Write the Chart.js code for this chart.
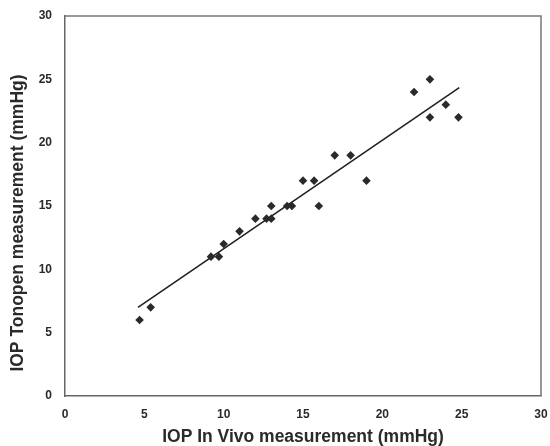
<!DOCTYPE html>
<html>
<head>
<meta charset="utf-8">
<script src="https://cdn.jsdelivr.net/npm/chart.js@4"></script>
<style>
  html, body { margin: 0; padding: 0; background: #fff; }
  #wrap { width: 550px; height: 446px; }
</style>
</head>
<body>
<div id="wrap"><canvas id="iopChart" width="550" height="446"></canvas></div>
<script>
// IOP in vivo (x) vs Tonopen (y), mmHg
const inVivo  = [4.7, 5.4, 9.2, 9.7, 10, 11, 12, 12.7, 13, 13, 14, 14.3, 15, 15.7, 16, 17, 18, 19, 22, 23, 23, 24, 24.8];
const tonopen = [6,   7,   11,  11,  12, 13, 14, 14,   14, 15, 15, 15,   17, 17,   15, 19, 19, 17, 24, 25, 22, 23, 22];

// trend line end points
const trendX = [4.6, 24.85];
const trendY = [7.0, 24.35];

const axisTicks = [0, 5, 10, 15, 20, 25, 30];

const points = inVivo.map((x, i) => ({ x, y: tonopen[i] }));
const trend = trendX.map((x, i) => ({ x, y: trendY[i] }));

// box round the plot area (top + right sides)
const frame = {
    id: 'frame',
    afterDraw(chart) {
        const { ctx, chartArea: a } = chart;
        ctx.save();
        ctx.strokeStyle = '#777';
        ctx.lineWidth = 1.5;
        ctx.beginPath();
        ctx.moveTo(a.left, a.top);
        ctx.lineTo(a.right, a.top);
        ctx.lineTo(a.right, a.bottom);
        ctx.stroke();
        ctx.restore();
    }
};

const tickFont = { family: 'Liberation Sans', size: 12, weight: 'bold' };
const titleFont = { family: 'Liberation Sans', size: 17.5, weight: 'bold', lineHeight: 1 };

new Chart(document.getElementById('iopChart'), {
    type: 'scatter',
    data: {
        datasets: [
            {
                label: 'Measurements',
                data: points,
                pointStyle: 'rectRot',
                pointRadius: 4.3,
                backgroundColor: '#2a2a2a',
                borderColor: '#2a2a2a',
                borderWidth: 0
            },
            {
                label: 'Linear fit',
                data: trend,
                showLine: true,
                pointRadius: 0,
                borderColor: '#222',
                borderWidth: 1.6
            }
        ]
    },
    options: {
        responsive: false,
        animation: false,
        events: [],
        layout: { autoPadding: false, padding: { left: 0, top: 16, right: 9, bottom: 0 } },
        plugins: { legend: { display: false }, tooltip: { enabled: false } },
        scales: {
            x: {
                type: 'linear',
                min: 0, max: 30,
                afterBuildTicks: s => { s.ticks = axisTicks.map(v => ({ value: v })); },
                afterFit: s => { s.height = 50; s.paddingLeft = 0; s.paddingRight = 0; },
                grid: { display: false, drawTicks: true, tickLength: 4, tickColor: '#666' },
                border: { color: '#666', width: 1.5 },
                ticks: { font: tickFont, color: '#2a2a2a', padding: 7, maxRotation: 0 },
                title: { display: true, text: 'IOP In Vivo measurement (mmHg)', font: titleFont, color: '#2a2a2a', padding: { top: 0, bottom: 0 } }
            },
            y: {
                type: 'linear',
                min: 0, max: 30,
                afterBuildTicks: s => { s.ticks = axisTicks.map(v => ({ value: v })); },
                afterFit: s => { s.width = 65; s.paddingTop = 0; s.paddingBottom = 0; },
                grid: { display: false, drawTicks: true, tickLength: 4, tickColor: '#666' },
                border: { color: '#666', width: 1.5 },
                ticks: { font: tickFont, color: '#2a2a2a', padding: 9 },
                title: { display: true, text: 'IOP Tonopen measurement (mmHg)       ', font: titleFont, color: '#2a2a2a', padding: { top: 9.5, bottom: 0 } }
            }
        }
    },
    plugins: [frame]
});
</script>
</body>
</html>
